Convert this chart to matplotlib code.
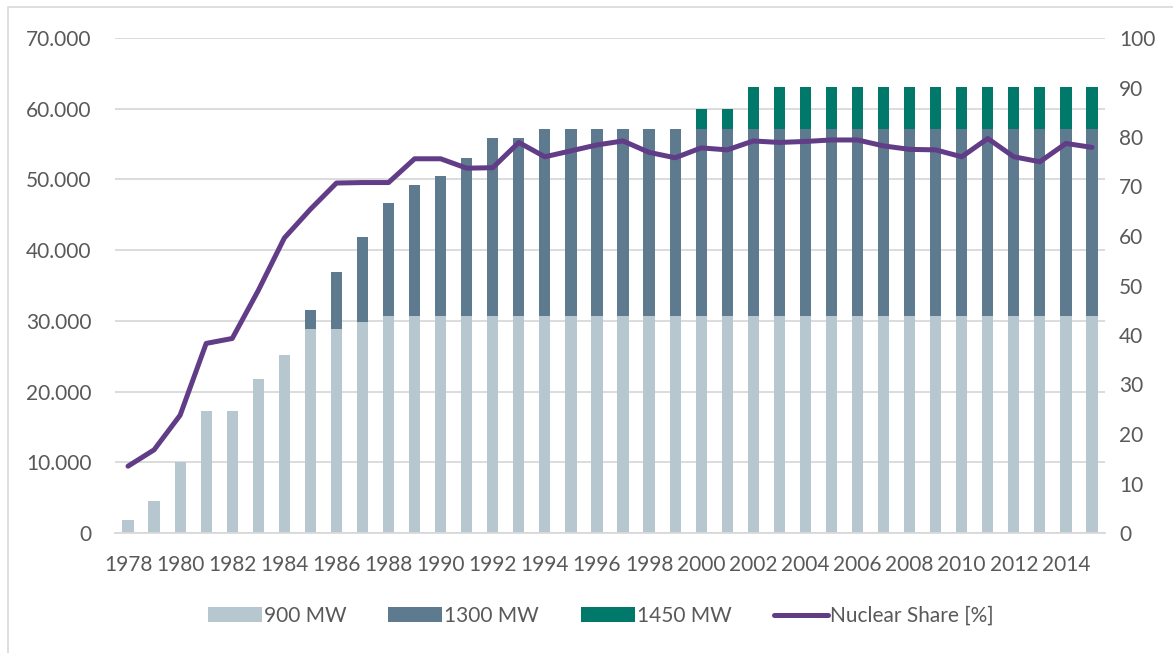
import numpy as np
import matplotlib.pyplot as plt
from matplotlib.patches import Rectangle

plt.rcParams['font.family'] = ['Lato', 'DejaVu Sans']

years = list(range(1978, 2016))

# installed capacity per reactor class [MW]
mw_900 = [1800, 4500, 10000, 17250, 17250, 21800, 25200, 28800, 28800, 29800,
          30700, 30700, 30700, 30700, 30700, 30700, 30700, 30700, 30700, 30700,
          30700, 30700, 30700, 30700, 30700, 30700, 30700, 30700, 30700, 30700,
          30700, 30700, 30700, 30700, 30700, 30700, 30700, 30700]
total_1300 = [0, 0, 0, 0, 0, 0, 0, 31500, 36900, 41800,
              46600, 49200, 50500, 53100, 55800, 55800, 57100, 57100, 57100, 57100,
              57100, 57100, 57100, 57100, 57100, 57100, 57100, 57100, 57100, 57100,
              57100, 57100, 57100, 57100, 57100, 57100, 57100, 57100]
total_1450 = [0] * 22 + [60000, 60000] + [63000] * 14

# nuclear share of generation [%]
share = [13.5, 16.8, 23.8, 38.3, 39.3, 49.0, 59.6, 65.4, 70.7, 70.8,
         70.8, 75.6, 75.6, 73.7, 73.8, 78.9, 76.0, 77.2, 78.4, 79.2,
         76.9, 75.8, 77.8, 77.4, 79.2, 78.9, 79.1, 79.4, 79.4, 78.2,
         77.5, 77.4, 76.0, 79.7, 76.0, 75.0, 78.7, 77.9]

mw_1300 = [max(t - b, 0) if t else 0 for t, b in zip(total_1300, mw_900)]
mw_1450 = [max(t - p, 0) if t else 0 for t, p in zip(total_1450, total_1300)]

c900 = '#b7c7cf'
c1300 = '#5e7a8e'
c1450 = '#00796b'
cline = '#613d87'
tcol = '#595959'

fig = plt.figure(figsize=(11.73, 6.53), dpi=100)
ax = fig.add_axes([115 / 1173, 1 - 533 / 653, 990 / 1173, 495 / 653])
ax2 = ax.twinx()

x = np.array(years)
w = 0.43
ax.bar(x, mw_900, w, color=c900, label='900 MW', zorder=2)
ax.bar(x, mw_1300, w, bottom=mw_900, color=c1300, label='1300 MW', zorder=2)
ax.bar(x, mw_1450, w, bottom=np.array(mw_900) + np.array(mw_1300),
       color=c1450, label='1450 MW', zorder=2)
ax2.plot(x, share, color=cline, lw=3.6, solid_capstyle='round',
         solid_joinstyle='round', label='Nuclear Share [%]')

ax.set_xlim(1977.5, 2015.5)
ax.set_ylim(0, 70000)
ax2.set_ylim(0, 100)
ax.set_yticks(np.arange(0, 70001, 10000))
ax.set_yticklabels(['0'] + [f'{v // 1000}.000' for v in range(10000, 70001, 10000)])
ax2.set_yticks(np.arange(0, 101, 10))
ax.set_xticks(years[::2])

ax.grid(axis='y', color='#d9d9d9', lw=1.3, zorder=0)
for a in (ax, ax2):
    for s in a.spines.values():
        s.set_visible(False)
    a.tick_params(length=0, labelsize=15, labelcolor=tcol)
ax.spines['bottom'].set_visible(True)
ax.spines['bottom'].set_color('#d9d9d9')
ax.spines['bottom'].set_linewidth(1.3)
ax.tick_params(axis='x', pad=16)
ax.tick_params(axis='y', pad=17)
ax2.tick_params(axis='y', pad=10)

h1, l1 = ax.get_legend_handles_labels()
h2, l2 = ax2.get_legend_handles_labels()
fig.legend(h1 + h2, l1 + l2, loc='center', bbox_to_anchor=(0.512, 1 - 616 / 653),
           ncol=4, frameon=False, fontsize=15, labelcolor=tcol,
           handlelength=2.6, handleheight=0.75, handletextpad=0.1, columnspacing=2.0)

fig.patches.append(Rectangle((8 / 1173, -0.1), 1.2, 1 - 7 / 653 + 0.1,
                             transform=fig.transFigure, fill=False,
                             edgecolor='#d9d9d9', lw=1.2))

fig.savefig('out.png', dpi=100)
